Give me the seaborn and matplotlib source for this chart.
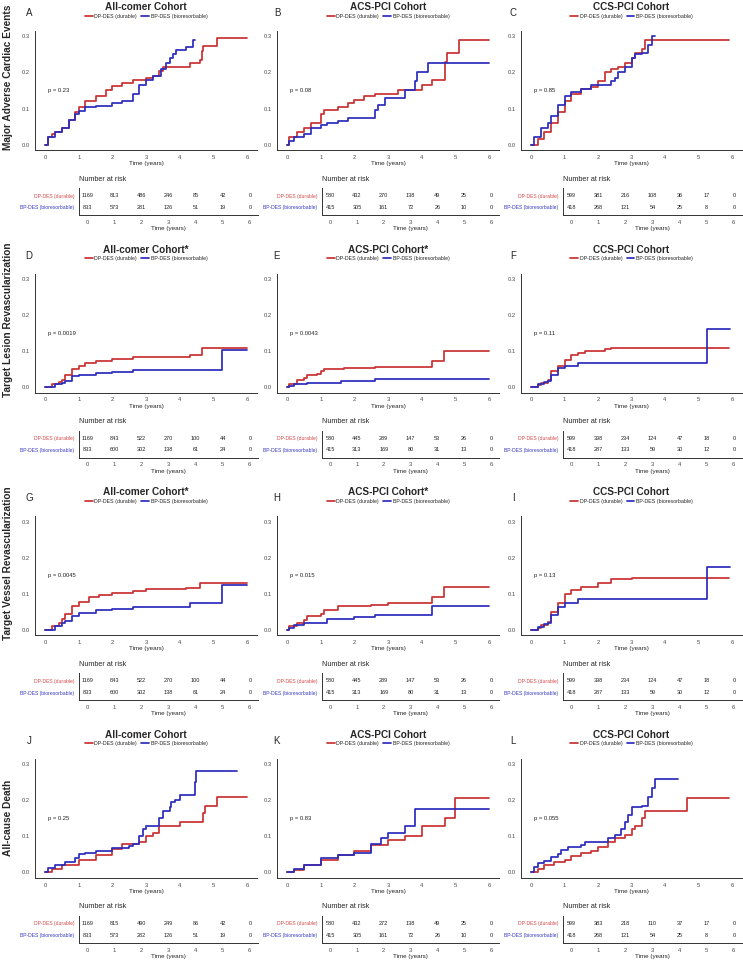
import matplotlib
matplotlib.use("Agg")
import matplotlib.pyplot as plt
import seaborn as sns

# ---- cumulative incidence curves (time in years, incidence) ----
# MACE
A_DP = ([0, 0.1, 0.2, 0.3, 0.5, 0.7, 0.9, 1.0, 1.2, 1.5, 1.8, 2.0, 2.3, 2.6, 3.0, 3.2, 3.4, 3.5, 4.0, 4.3, 4.6, 4.65, 4.7, 5.1, 6.0],
        [0, 0.02, 0.03, 0.035, 0.045, 0.068, 0.09, 0.105, 0.122, 0.135, 0.15, 0.163, 0.172, 0.178, 0.184, 0.19, 0.205, 0.215, 0.216, 0.225, 0.235, 0.26, 0.274, 0.295, 0.295])
A_BP = ([0, 0.1, 0.3, 0.5, 0.7, 0.9, 1.0, 1.2, 1.5, 2.0, 2.3, 2.6, 2.8, 3.0, 3.2, 3.45, 3.6, 3.7, 3.8, 3.9, 4.2, 4.4, 4.45],
        [0, 0.022, 0.035, 0.045, 0.068, 0.085, 0.093, 0.103, 0.108, 0.115, 0.122, 0.14, 0.165, 0.18, 0.19, 0.21, 0.225, 0.24, 0.25, 0.262, 0.272, 0.29, 0.29])
B_DP = ([0, 0.05, 0.3, 0.5, 0.7, 1.0, 1.1, 1.5, 1.8, 2.0, 2.3, 2.6, 3.3, 4.0, 4.3, 4.7, 4.75, 5.1, 6.0],
        [0, 0.02, 0.035, 0.045, 0.06, 0.085, 0.095, 0.105, 0.115, 0.125, 0.135, 0.14, 0.15, 0.165, 0.18, 0.23, 0.255, 0.29, 0.29])
B_BP = ([0, 0.05, 0.2, 0.5, 0.7, 1.0, 1.2, 1.5, 1.8, 2.6, 2.7, 2.9, 3.5, 3.8, 3.85, 4.2, 6.0],
        [0, 0.01, 0.02, 0.03, 0.045, 0.055, 0.06, 0.065, 0.075, 0.095, 0.11, 0.13, 0.15, 0.175, 0.2, 0.225, 0.225])
C_DP = ([0, 0.2, 0.4, 0.6, 0.8, 1.0, 1.2, 1.5, 1.8, 2.0, 2.2, 2.4, 2.6, 2.8, 3.0, 3.1, 3.3, 3.4, 5.9],
        [0, 0.015, 0.035, 0.06, 0.09, 0.12, 0.14, 0.155, 0.16, 0.175, 0.2, 0.21, 0.215, 0.225, 0.24, 0.255, 0.265, 0.29, 0.29])
C_BP = ([0, 0.1, 0.3, 0.5, 0.6, 0.8, 1.0, 1.2, 1.5, 1.8, 2.4, 2.5, 2.6, 2.8, 3.0, 3.1, 3.3, 3.5, 3.6, 3.7],
        [0, 0.02, 0.045, 0.06, 0.08, 0.11, 0.135, 0.145, 0.155, 0.165, 0.175, 0.185, 0.2, 0.215, 0.24, 0.25, 0.255, 0.275, 0.3, 0.3])
# Target lesion revascularization
D_DP = ([0, 0.2, 0.4, 0.5, 0.6, 0.8, 1.0, 1.2, 1.5, 2.0, 2.6, 4.3, 4.65, 6.0],
        [0, 0.008, 0.015, 0.02, 0.035, 0.05, 0.06, 0.068, 0.072, 0.077, 0.083, 0.09, 0.108, 0.108])
D_BP = ([0, 0.3, 0.5, 0.6, 0.8, 1.0, 1.5, 2.0, 2.6, 5.25, 6.0],
        [0, 0.008, 0.012, 0.018, 0.03, 0.034, 0.04, 0.043, 0.047, 0.102, 0.102])
E_DP = ([0, 0.05, 0.3, 0.5, 0.6, 0.9, 1.0, 1.1, 1.7, 2.6, 4.3, 4.65, 6.0],
        [0, 0.01, 0.02, 0.025, 0.033, 0.037, 0.045, 0.05, 0.052, 0.056, 0.073, 0.1, 0.1])
E_BP = ([0, 0.05, 0.2, 0.6, 1.6, 2.6, 6.0],
        [0, 0.003, 0.008, 0.013, 0.016, 0.024, 0.024])
F_DP = ([0, 0.2, 0.3, 0.5, 0.6, 0.8, 1.0, 1.2, 1.4, 1.6, 2.2, 2.4, 5.9],
        [0, 0.005, 0.012, 0.02, 0.045, 0.06, 0.075, 0.09, 0.095, 0.1, 0.105, 0.11, 0.11])
F_BP = ([0, 0.2, 0.4, 0.5, 0.6, 0.8, 1.0, 1.4, 5.25, 5.95],
        [0, 0.008, 0.015, 0.018, 0.035, 0.052, 0.058, 0.067, 0.16, 0.16])
# Target vessel revascularization
G_DP = ([0, 0.2, 0.4, 0.5, 0.6, 0.8, 1.0, 1.3, 1.6, 2.0, 2.6, 3.0, 4.2, 4.6, 6.0],
        [0, 0.01, 0.02, 0.03, 0.045, 0.065, 0.078, 0.09, 0.097, 0.102, 0.108, 0.112, 0.117, 0.13, 0.13])
G_BP = ([0, 0.3, 0.5, 0.6, 0.8, 1.0, 1.5, 2.0, 2.6, 4.3, 5.25, 6.0],
        [0, 0.01, 0.018, 0.025, 0.038, 0.047, 0.055, 0.058, 0.062, 0.075, 0.125, 0.125])
H_DP = ([0, 0.05, 0.3, 0.5, 0.6, 1.0, 1.1, 1.5, 2.5, 3.0, 4.3, 4.65, 6.0],
        [0, 0.01, 0.02, 0.028, 0.038, 0.045, 0.055, 0.065, 0.07, 0.075, 0.09, 0.12, 0.12])
H_BP = ([0, 0.05, 0.2, 0.5, 1.2, 2.0, 2.6, 4.3, 6.0],
        [0, 0.005, 0.012, 0.02, 0.03, 0.035, 0.04, 0.065, 0.065])
I_DP = ([0, 0.2, 0.3, 0.5, 0.6, 0.8, 1.0, 1.2, 1.5, 2.0, 2.4, 3.0, 5.9],
        [0, 0.005, 0.012, 0.022, 0.05, 0.075, 0.1, 0.11, 0.12, 0.13, 0.14, 0.145, 0.145])
I_BP = ([0, 0.2, 0.4, 0.5, 0.6, 0.8, 1.0, 1.4, 5.25, 5.95],
        [0, 0.008, 0.015, 0.02, 0.04, 0.062, 0.075, 0.085, 0.175, 0.175])
# All-cause death
J_DP = ([0, 0.2, 0.5, 1.0, 1.5, 2.0, 2.3, 2.8, 3.0, 3.2, 3.4, 4.0, 4.7, 4.75, 5.1, 6.0],
        [0, 0.01, 0.02, 0.035, 0.048, 0.065, 0.08, 0.085, 0.1, 0.11, 0.13, 0.14, 0.165, 0.185, 0.21, 0.21])
J_BP = ([0, 0.1, 0.3, 0.6, 0.9, 1.0, 1.2, 1.5, 2.0, 2.5, 2.6, 2.8, 2.9, 3.0, 3.4, 3.5, 3.7, 3.75, 3.85, 4.0, 4.45, 4.5, 5.7],
        [0, 0.012, 0.02, 0.03, 0.04, 0.05, 0.055, 0.06, 0.068, 0.072, 0.08, 0.1, 0.12, 0.13, 0.15, 0.17, 0.18, 0.195, 0.2, 0.215, 0.25, 0.28, 0.28])
K_DP = ([0, 0.2, 0.5, 1.0, 1.5, 2.0, 2.5, 3.0, 3.5, 4.0, 4.7, 5.0, 6.0],
        [0, 0.008, 0.02, 0.035, 0.048, 0.06, 0.075, 0.09, 0.1, 0.13, 0.15, 0.205, 0.205])
K_BP = ([0, 0.2, 0.5, 1.0, 1.5, 2.0, 2.5, 2.8, 3.0, 3.5, 3.8, 6.0],
        [0, 0.01, 0.02, 0.04, 0.048, 0.055, 0.08, 0.095, 0.11, 0.13, 0.175, 0.175])
L_DP = ([0, 0.2, 0.4, 0.7, 1.0, 1.2, 1.5, 1.8, 2.0, 2.3, 2.5, 2.8, 3.0, 3.1, 3.3, 3.4, 4.65, 5.9],
        [0, 0.01, 0.02, 0.028, 0.035, 0.045, 0.055, 0.06, 0.07, 0.085, 0.095, 0.105, 0.12, 0.13, 0.15, 0.17, 0.205, 0.205])
L_BP = ([0, 0.1, 0.2, 0.4, 0.6, 0.8, 0.9, 1.1, 1.5, 1.6, 2.3, 2.5, 2.7, 2.8, 2.9, 3.0, 3.3, 3.5, 3.6, 3.7, 4.4],
        [0, 0.015, 0.025, 0.032, 0.042, 0.05, 0.062, 0.07, 0.075, 0.085, 0.095, 0.105, 0.12, 0.14, 0.16, 0.18, 0.185, 0.21, 0.235, 0.26, 0.26])

# ---- numbers at risk at years 0..6 ----
RISK_A = ([1169, 813, 486, 246, 85, 42, 0], [833, 573, 281, 126, 51, 19, 0])
RISK_B = ([580, 432, 270, 138, 49, 25, 0], [415, 305, 161, 72, 26, 10, 0])
RISK_C = ([599, 381, 216, 108, 36, 17, 0], [418, 268, 121, 54, 25, 8, 0])
RISK_D = ([1169, 843, 522, 270, 100, 44, 0], [833, 600, 302, 138, 61, 24, 0])
RISK_E = ([580, 445, 289, 147, 53, 26, 0], [415, 313, 169, 80, 31, 13, 0])
RISK_F = ([599, 398, 234, 124, 47, 18, 0], [418, 287, 133, 59, 30, 12, 0])
RISK_G = ([1169, 843, 522, 270, 100, 44, 0], [833, 600, 302, 138, 61, 24, 0])
RISK_H = ([580, 445, 289, 147, 53, 26, 0], [415, 313, 169, 80, 31, 13, 0])
RISK_I = ([599, 398, 234, 124, 47, 18, 0], [418, 287, 133, 59, 30, 12, 0])
RISK_J = ([1169, 815, 490, 249, 86, 42, 0], [833, 573, 282, 126, 51, 19, 0])
RISK_K = ([580, 432, 272, 138, 49, 25, 0], [415, 305, 161, 72, 26, 10, 0])
RISK_L = ([599, 383, 218, 110, 37, 17, 0], [418, 268, 121, 54, 25, 8, 0])

letters = list("ABCDEFGHIJKL")
titles = ["All-comer Cohort", "ACS-PCI Cohort", "CCS-PCI Cohort",
          "All-comer Cohort*", "ACS-PCI Cohort*", "CCS-PCI Cohort",
          "All-comer Cohort*", "ACS-PCI Cohort*", "CCS-PCI Cohort",
          "All-comer Cohort", "ACS-PCI Cohort", "CCS-PCI Cohort"]
pvals = ["0.23", "0.08", "0.85", "0.0019", "0.0043", "0.11",
         "0.0045", "0.015", "0.13", "0.25", "0.83", "0.055"]
row_labels = ["Major Adverse Cardiac Events", "Target Lesion Revascularization",
              "Target Vessel Revascularization", "All-cause Death"]
groups = ["DP-DES (durable)", "BP-DES (bioresorbable)"]
years = [0, 1, 2, 3, 4, 5, 6]

curves = [(A_DP, A_BP), (B_DP, B_BP), (C_DP, C_BP), (D_DP, D_BP), (E_DP, E_BP), (F_DP, F_BP),
          (G_DP, G_BP), (H_DP, H_BP), (I_DP, I_BP), (J_DP, J_BP), (K_DP, K_BP), (L_DP, L_BP)]
risks = [RISK_A, RISK_B, RISK_C, RISK_D, RISK_E, RISK_F,
         RISK_G, RISK_H, RISK_I, RISK_J, RISK_K, RISK_L]

sns.set_style("white")
plt.rcParams["font.family"] = ["Liberation Sans", "DejaVu Sans"]

RED = "#C93030"
BLUE = "#2B2BBE"
RED_TXT = "#D44A4A"
BLUE_TXT = "#3A3AC2"
AX_COL = "#333333"
TICK_COL = "#4D4D4D"

W, H = 743, 963
fig = plt.figure(figsize=(W / 100, H / 100), dpi=100)


def add_ax(x0, y0, x1, y1):
    return fig.add_axes([x0 / W, 1 - y1 / H, (x1 - x0) / W, (y1 - y0) / H])


def style(ax):
    sns.despine(ax=ax)
    for s in ["left", "bottom"]:
        ax.spines[s].set_color(AX_COL)
        ax.spines[s].set_linewidth(0.7)
    ax.tick_params(length=2, width=0.5, color=AX_COL, labelsize=4.2,
                   labelcolor=TICK_COL, pad=1.5)


ROW_STEP = 242.6
main_x = [(35, 257), (277, 499), (521, 742)]
risk_x = [(79, 258), (322, 499), (563, 742)]
letter_x = [29, 277, 513]
row_label_y = [77, 320, 563, 818]

for i in range(12):
    r, c = divmod(i, 3)
    off = r * ROW_STEP
    dp, bp = curves[i]

    ax = add_ax(main_x[c][0], 31 + off, main_x[c][1], 150 + off)
    sns.lineplot(x=dp[0], y=dp[1], ax=ax, color=RED, linewidth=1.25,
                 drawstyle="steps-post", estimator=None, label=groups[0])
    sns.lineplot(x=bp[0], y=bp[1], ax=ax, color=BLUE, linewidth=1.25,
                 drawstyle="steps-post", estimator=None, label=groups[1])
    ax.set_xlim(-0.3, 6.3)
    ax.set_ylim(-0.015, 0.315)
    ax.set_xticks(years)
    ax.set_yticks([0, 0.1, 0.2, 0.3])
    ax.set_yticklabels(["0.0", "0.1", "0.2", "0.3"])
    ax.set_xlabel("Time (years)", fontsize=4.5, labelpad=1)
    ax.set_ylabel("")
    style(ax)
    ax.text(0.1, 0.15, "p = " + pvals[i], fontsize=4.2, ha="left", va="center",
            color="#222222")
    ax.legend(loc="center", bbox_to_anchor=(0.5, 1.126), ncol=2, frameon=False,
              fontsize=3.8, handlelength=1.5, handletextpad=0.3,
              columnspacing=0.8, borderaxespad=0)

    cx = (main_x[c][0] + main_x[c][1]) / 2
    fig.text(cx / W, 1 - (7 + off) / H, titles[i], fontsize=7.2,
             fontweight="bold", ha="center", va="center")
    fig.text(letter_x[c] / W, 1 - (13 + off) / H, letters[i], fontsize=7,
             ha="center", va="center")

    # risk table
    rk = add_ax(risk_x[c][0], 188 + off, risk_x[c][1], 215 + off)
    rk.set_xlim(-0.3, 6.3)
    rk.set_ylim(-0.65, 1.65)
    rk.set_xticks(years)
    rk.set_yticks([1, 0])
    rk.set_yticklabels(groups)
    style(rk)
    for lab, col in zip(rk.get_yticklabels(), [RED_TXT, BLUE_TXT]):
        lab.set_color(col)
        lab.set_fontsize(3.6)
    rk.set_xlabel("Time (years)", fontsize=4.5, labelpad=1)
    for t, n in zip(years, risks[i][0]):
        rk.text(t, 1, str(n), fontsize=4, ha="center", va="center", color="#222222")
    for t, n in zip(years, risks[i][1]):
        rk.text(t, 0, str(n), fontsize=4, ha="center", va="center", color="#222222")
    fig.text(risk_x[c][0] / W, 1 - (179 + off) / H, "Number at risk",
             fontsize=5.2, ha="left", va="center")

for r in range(4):
    fig.text(8 / W, 1 - row_label_y[r] / H, row_labels[r], fontsize=7.3,
             fontweight="bold", rotation=90, ha="center", va="center")

fig.savefig("out.png", dpi=100)
